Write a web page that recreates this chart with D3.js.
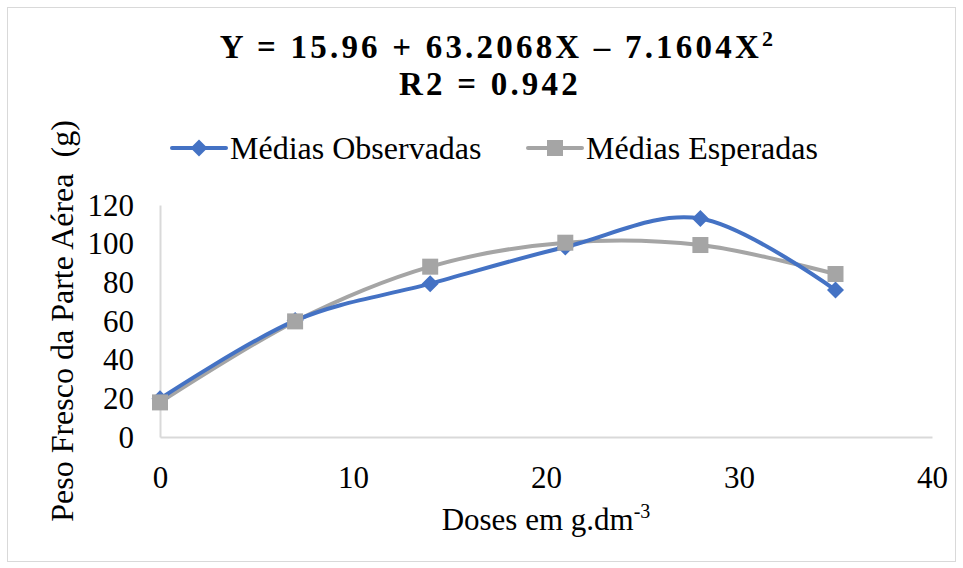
<!DOCTYPE html>
<html>
<head>
<meta charset="utf-8">
<script src="https://cdn.jsdelivr.net/npm/d3@7"></script>
<style>
  html, body { margin: 0; padding: 0; background: #fff; }
  svg text { font-family: "Liberation Serif", "Times New Roman", serif; fill: #000; }
</style>
</head>
<body>
<svg id="chart" width="963" height="568"></svg>
<script>
// ---- data ----
const doses = [0, 7, 14, 21, 28, 35];
const observed = [19.8, 60.2, 79.3, 98.3, 113.0, 76.0];
const expected = [17.9, 59.8, 88.1, 100.5, 99.3, 84.3];
const xTicks = [0, 10, 20, 30, 40];
const yTicks = [0, 20, 40, 60, 80, 100, 120];
const seriesNames = ["Médias Observadas", "Médias Esperadas"];
const titleLine1 = "Y = 15.96 + 63.2068X \u2013 7.1604X";
const titleLine2 = "R2 = 0.942";
const xTitle = "Doses em g.dm";
const yTitle = "Peso Fresco da Parte Aérea  (g)";

const svg = d3.select("#chart");
const W = 963, H = 568;
const plot = { left: 160, right: 932, top: 205, bottom: 437 };

// chart border
svg.append("rect").attr("x", 7.5).attr("y", 7.5).attr("width", W - 15).attr("height", H - 14)
  .attr("fill", "#fff").attr("stroke", "#d9d9d9").attr("stroke-width", 1);

const x = d3.scaleLinear().domain([0, 40]).range([plot.left, plot.right]);
const y = d3.scaleLinear().domain([0, 120]).range([plot.bottom, plot.top]);

// axes
const xAxis = svg.append("g").attr("transform", `translate(0,${plot.bottom})`)
  .call(d3.axisBottom(x).tickValues(xTicks).tickSize(0).tickPadding(0).tickFormat(d3.format("d")));
xAxis.select(".domain").attr("stroke", "#d9d9d9").attr("stroke-width", 2);
xAxis.selectAll("text").attr("font-size", 31).attr("dy", null).attr("y", 51);

const yAxis = svg.append("g").attr("transform", `translate(${plot.left},0)`)
  .call(d3.axisLeft(y).tickValues(yTicks).tickSize(0).tickPadding(26).tickFormat(d3.format("d")));
yAxis.select(".domain").attr("stroke", "#d9d9d9").attr("stroke-width", 2);
yAxis.selectAll("text").attr("font-size", 31).attr("dy", "0.33em");

// lines
const line = d3.line().x((d, i) => x(doses[i])).y(d => y(d)).curve(d3.curveCatmullRom.alpha(0));

svg.append("path").datum(expected).attr("d", line)
  .attr("fill", "none").attr("stroke", "#a5a5a5").attr("stroke-width", 4).attr("stroke-linecap", "round");
svg.append("path").datum(observed).attr("d", line)
  .attr("fill", "none").attr("stroke", "#4472c4").attr("stroke-width", 4).attr("stroke-linecap", "round");

// markers
const diamond = s => `M0,${-s}L${s},0L0,${s}L${-s},0Z`;
svg.append("g").selectAll("path").data(observed).join("path")
  .attr("transform", (d, i) => `translate(${x(doses[i])},${y(d)})`)
  .attr("d", diamond(8.5)).attr("fill", "#4472c4");
svg.append("g").selectAll("rect").data(expected).join("rect")
  .attr("x", (d, i) => x(doses[i]) - 8).attr("y", d => y(d) - 8)
  .attr("width", 16).attr("height", 16).attr("fill", "#a5a5a5");

// title
const t1 = svg.append("text").attr("x", 498).attr("y", 58).attr("text-anchor", "middle")
  .attr("font-size", 33).attr("font-weight", "bold").attr("letter-spacing", 3.2);
t1.append("tspan").text(titleLine1);
t1.append("tspan").attr("font-size", 22).attr("dy", -12).text("2");
svg.append("text").attr("x", 490).attr("y", 95).attr("text-anchor", "middle")
  .attr("font-size", 33).attr("font-weight", "bold").attr("letter-spacing", 3.2).text(titleLine2);

// legend
const legend = [
  { name: seriesNames[0], color: "#4472c4", lx: 172, marker: "diamond" },
  { name: seriesNames[1], color: "#a5a5a5", lx: 528, marker: "square" }
];
legend.forEach(l => {
  const g = svg.append("g");
  g.append("line").attr("x1", l.lx).attr("x2", l.lx + 54).attr("y1", 148).attr("y2", 148)
    .attr("stroke", l.color).attr("stroke-width", 4).attr("stroke-linecap", "round");
  if (l.marker === "diamond") {
    g.append("path").attr("transform", `translate(${l.lx + 27},148)`).attr("d", diamond(8.5)).attr("fill", l.color);
  } else {
    g.append("rect").attr("x", l.lx + 19).attr("y", 140).attr("width", 16).attr("height", 16).attr("fill", l.color);
  }
  g.append("text").attr("x", l.lx + 58).attr("y", 159).attr("font-size", 32).text(l.name);
});

// axis titles
const xt = svg.append("text").attr("x", 546).attr("y", 530).attr("text-anchor", "middle").attr("font-size", 31);
xt.append("tspan").text(xTitle);
xt.append("tspan").attr("font-size", 20).attr("dy", -12).text("-3");

svg.append("text").attr("transform", `translate(73,321) rotate(-90)`).attr("text-anchor", "middle")
  .attr("font-size", 32).style("white-space", "pre").text(yTitle);
</script>
</body>
</html>
